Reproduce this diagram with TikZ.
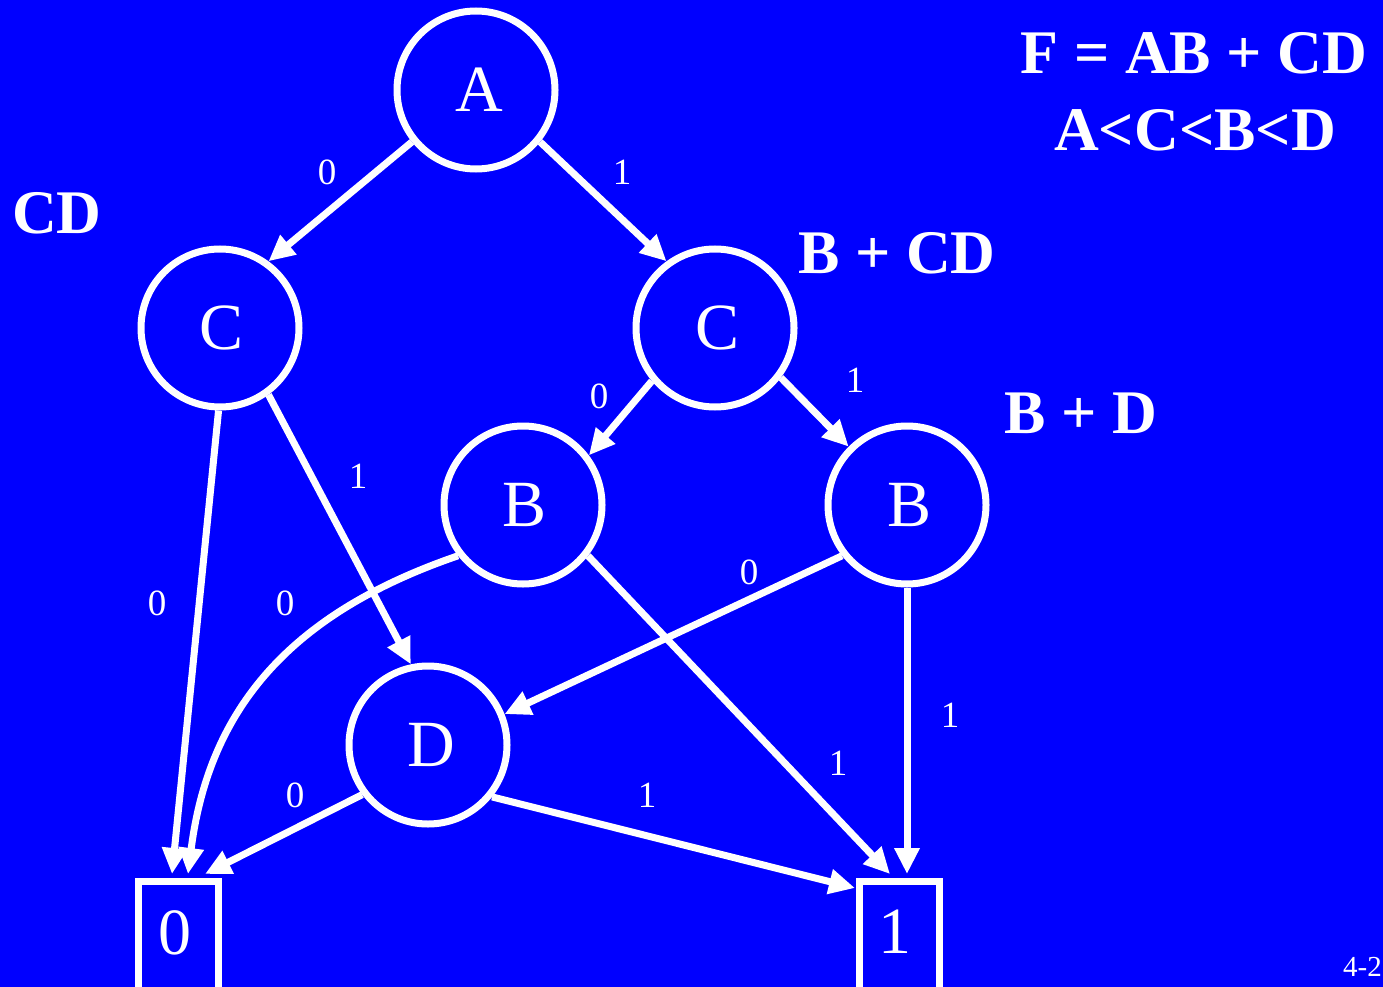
\documentclass[tikz,border=0pt]{standalone}
\usepackage{fontspec}
\setmainfont{Liberation Serif}
\usetikzlibrary{arrows.meta}
\definecolor{bg}{RGB}{0,0,255}
\begin{document}
\begin{tikzpicture}[x=1pt,y=-1pt,
  vnode/.style={circle,draw=white,line width=7pt,minimum size=158pt,inner sep=0pt,text=white,font=\fontsize{66}{70}\selectfont},
  tbox/.style={rectangle,draw=white,line width=7pt,minimum width=80pt,minimum height=150pt,inner sep=0pt,anchor=north},
  tval/.style={text=white,font=\fontsize{66}{70}\selectfont},
  elab/.style={text=white,font=\fontsize{37}{40}\selectfont},
  expr/.style={text=white,font=\fontsize{62}{66}\selectfont\bfseries},
  conn/.style={draw=white,line width=7pt,-{Triangle[length=26pt,width=24pt]}},
]
\useasboundingbox (0,0) rectangle (1383,987);
\clip (0,0) rectangle (1383,987);
\fill[bg] (0,0) rectangle (1383,987);

% nodes
\node[vnode] (A)  at (476,90)  {\hspace*{6pt}A};
\node[vnode] (CL) at (220,328) {\hspace*{4pt}C};
\node[vnode] (CR) at (715,328) {\hspace*{4pt}C};
\node[vnode] (BM) at (523,505) {\hspace*{4pt}B};
\node[vnode] (BR) at (907,505) {\hspace*{4pt}B};
\node[vnode] (D)  at (428,745) {\hspace*{6pt}D};
\node[tbox] (b0) at (178.5,878) {};
\node[tbox] (b1) at (899.5,878) {};
\node[tval] (b0t) at (175,933) {0};
\node[tval] (b1t) at (895,932) {1};

% arrow end points on the terminal boxes
\coordinate (e1) at (172,874);
\coordinate (e2) at (188,874);
\coordinate (e5) at (205,874);
\coordinate (e3) at (890,874);
\coordinate (e4) at (907,874);
\coordinate (e6) at (855,888);

% connectors
\draw[conn] (A.219) -- (CL.54);
\draw[conn] (A.321) -- (CR.126);
\draw[conn] (CL.269) -- (e1);
\draw[conn] (CL.306) -- (D.102);
\draw[conn] (CR.220) -- (BM.37);
\draw[conn] (CR.323) -- (BR.135);
\draw[conn] (BM.218) .. controls (300,610) and (210,700) .. (e2);
\draw[conn] (BM.322) -- (e3);
\draw[conn] (BR.218) -- (D.22);
\draw[conn] (BR.270) -- (e4);
\draw[conn] (D.217) -- (e5);
\draw[conn] (D.321) -- (e6);

% edge labels
\node[elab] (l1)  at (327,172) {0};
\node[elab] (l2)  at (622,172) {1};
\node[elab] (l3)  at (157,603) {0};
\node[elab] (l4)  at (358,476) {1};
\node[elab] (l5)  at (599,396) {0};
\node[elab] (l6)  at (855,380) {1};
\node[elab] (l7)  at (285,603) {0};
\node[elab] (l8)  at (838,763) {1};
\node[elab] (l9)  at (749,572) {0};
\node[elab] (l10) at (950,715) {1};
\node[elab] (l11) at (295,795) {0};
\node[elab] (l12) at (647,795) {1};

% expressions
\node[expr] (x1) at (57,213)   {CD};
\node[expr] (x2) at (897,253)  {B + CD};
\node[expr] (x3) at (1081,413) {B + D};
\node[expr] (x4) at (1194,53)  {F = AB + CD};
\node[expr] (x5) at (1195,130) {A<C<B<D};
\node[text=white,font=\fontsize{29}{32}\selectfont,anchor=east,inner sep=1pt] (pg) at (1383,967) {4-2};
\end{tikzpicture}
\end{document}
